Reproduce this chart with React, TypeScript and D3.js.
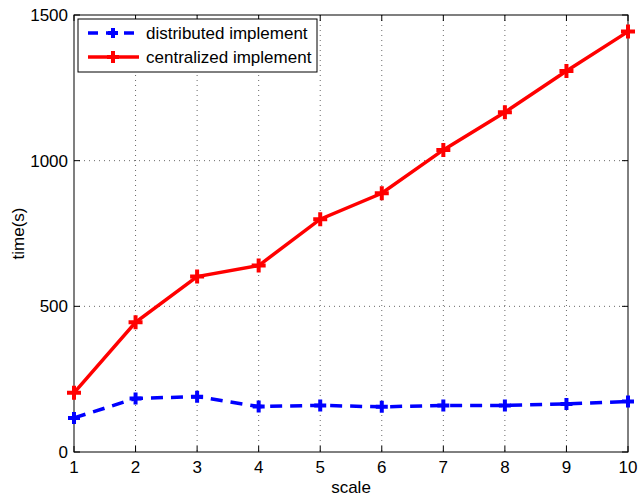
import React, { useEffect, useRef } from 'react';
import * as d3 from 'd3';

const scales = [1, 2, 3, 4, 5, 6, 7, 8, 9, 10];
const distributed = [117, 184, 190, 156, 160, 155, 160, 160, 165, 173];
const centralized = [203, 445, 602, 640, 799, 888, 1037, 1166, 1308, 1443];
const yTicks = [0, 500, 1000, 1500];
const seriesNames = ['distributed implement', 'centralized implement'];

const App = () => {
  const ref = useRef<SVGSVGElement>(null);

  useEffect(() => {
    const width = 638;
    const height = 497;
    const margin = { top: 15, right: 10, bottom: 45, left: 74 };
    const innerW = width - margin.left - margin.right;
    const innerH = height - margin.top - margin.bottom;
    const font = 'Liberation Sans, Arial, sans-serif';
    const fs = 17;

    const svg = d3.select(ref.current);
    svg.selectAll('*').remove();

    const g = svg.append('g').attr('transform', `translate(${margin.left},${margin.top})`);

    const x = d3.scaleLinear().domain([1, 10]).range([0, innerW]);
    const y = d3.scaleLinear().domain([0, 1500]).range([innerH, 0]);

    // background
    g.append('rect').attr('width', innerW).attr('height', innerH).attr('fill', '#fff');

    // grid lines (dotted)
    g.selectAll('.vgrid')
      .data(scales.slice(1, -1))
      .enter().append('line')
      .attr('x1', d => x(d)).attr('x2', d => x(d))
      .attr('y1', 0).attr('y2', innerH)
      .attr('stroke', '#000').attr('stroke-width', 0.6)
      .attr('stroke-dasharray', '1,4');
    g.selectAll('.hgrid')
      .data(yTicks.slice(1, -1))
      .enter().append('line')
      .attr('x1', 0).attr('x2', innerW)
      .attr('y1', d => y(d)).attr('y2', d => y(d))
      .attr('stroke', '#000').attr('stroke-width', 0.6)
      .attr('stroke-dasharray', '1,4');

    // axes box
    g.append('rect').attr('width', innerW).attr('height', innerH)
      .attr('fill', 'none').attr('stroke', '#000').attr('stroke-width', 1);

    // inward ticks on all sides
    const tl = 6;
    scales.forEach(d => {
      g.append('line').attr('x1', x(d)).attr('x2', x(d)).attr('y1', innerH).attr('y2', innerH - tl).attr('stroke', '#000');
      g.append('line').attr('x1', x(d)).attr('x2', x(d)).attr('y1', 0).attr('y2', tl).attr('stroke', '#000');
    });
    yTicks.forEach(d => {
      g.append('line').attr('x1', 0).attr('x2', tl).attr('y1', y(d)).attr('y2', y(d)).attr('stroke', '#000');
      g.append('line').attr('x1', innerW).attr('x2', innerW - tl).attr('y1', y(d)).attr('y2', y(d)).attr('stroke', '#000');
    });

    // tick labels
    g.selectAll('.xl')
      .data(scales)
      .enter().append('text')
      .attr('x', d => x(d)).attr('y', innerH + 21)
      .attr('text-anchor', 'middle')
      .attr('font-family', font).attr('font-size', fs)
      .text(d => d);
    g.selectAll('.yl')
      .data(yTicks)
      .enter().append('text')
      .attr('x', -6).attr('y', d => y(d) + 6)
      .attr('text-anchor', 'end')
      .attr('font-family', font).attr('font-size', fs)
      .text(d => d);

    // axis titles
    g.append('text')
      .attr('x', innerW / 2).attr('y', innerH + 41)
      .attr('text-anchor', 'middle')
      .attr('font-family', font).attr('font-size', fs)
      .text('scale');
    g.append('text')
      .attr('transform', `translate(${-50},${innerH / 2}) rotate(-90)`)
      .attr('text-anchor', 'middle')
      .attr('font-family', font).attr('font-size', fs)
      .text('time(s)');

    const line = d3.line<number>().x((d, i) => x(scales[i])).y(d => y(d));

    const drawPlus = (sel: any, cx: number, cy: number, color: string, s: number) => {
      sel.append('path')
        .attr('d', `M${cx - s},${cy}H${cx + s}M${cx},${cy - s}V${cy + s}`)
        .attr('stroke', color).attr('stroke-width', 4).attr('fill', 'none');
    };

    // distributed series (blue dashed)
    g.append('path')
      .datum(distributed)
      .attr('d', line)
      .attr('fill', 'none').attr('stroke', '#0000ff').attr('stroke-width', 3.5)
      .attr('stroke-dasharray', '12,8');
    distributed.forEach((v, i) => drawPlus(g, x(scales[i]), y(v), '#0000ff', 6));

    // centralized series (red solid)
    g.append('path')
      .datum(centralized)
      .attr('d', line)
      .attr('fill', 'none').attr('stroke', '#ff0000').attr('stroke-width', 3.5);
    centralized.forEach((v, i) => drawPlus(g, x(scales[i]), y(v), '#ff0000', 7));

    // legend
    const lg = svg.append('g').attr('transform', 'translate(78,19)');
    lg.append('rect').attr('width', 239).attr('height', 53)
      .attr('fill', '#fff').attr('stroke', '#000').attr('stroke-width', 1);
    const colors = ['#0000ff', '#ff0000'];
    const dashes = ['12,8', null];
    seriesNames.forEach((name, i) => {
      const ly = 14 + i * 24;
      lg.append('line')
        .attr('x1', 10).attr('x2', 61).attr('y1', ly).attr('y2', ly)
        .attr('stroke', colors[i]).attr('stroke-width', 3.5)
        .attr('stroke-dasharray', dashes[i] ? '10,8' : null);
      drawPlus(lg, 35, ly, colors[i], i === 0 ? 5 : 6);
      lg.append('text')
        .attr('x', 68).attr('y', ly + 6)
        .attr('font-family', font).attr('font-size', fs)
        .text(name);
    });
  }, []);

  return (
    <svg ref={ref} width={638} height={497}
      style={{ position: 'absolute', left: 0, top: 0, background: '#fff' }} />
  );
};

export default App;
